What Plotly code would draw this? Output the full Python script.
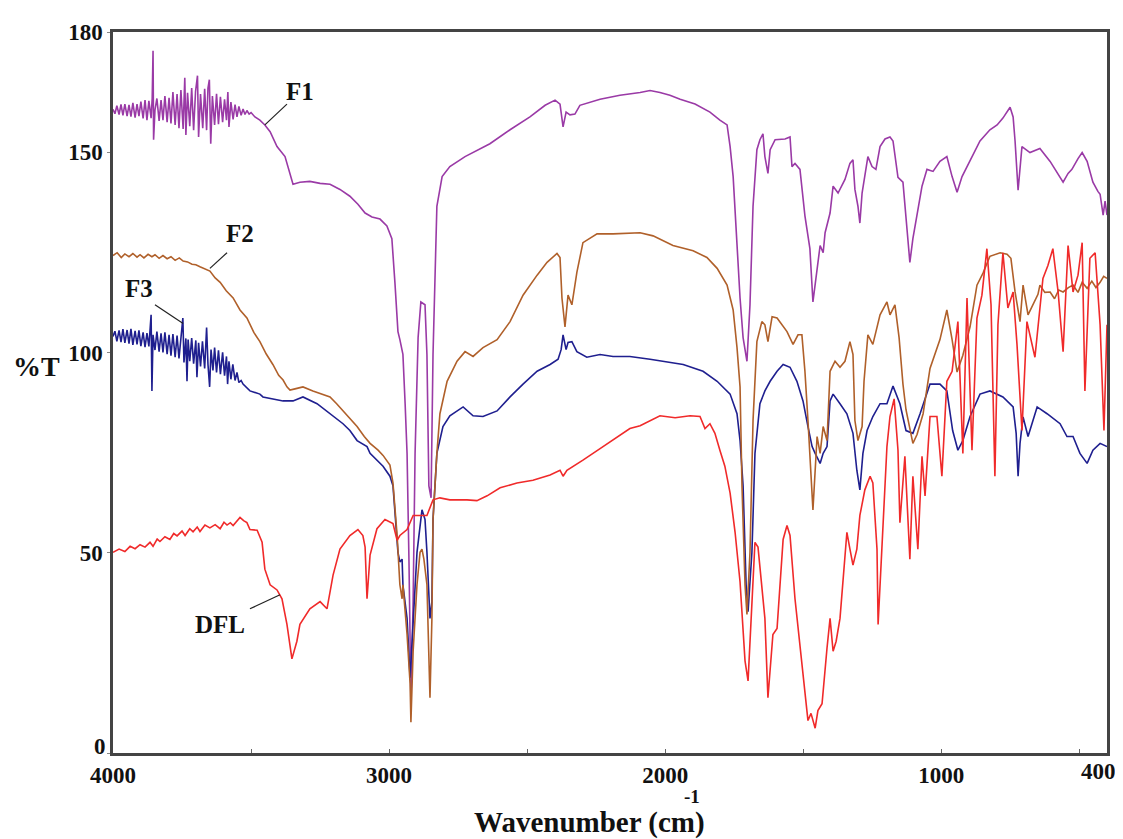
import plotly.graph_objects as go

# ---- data: (wavenumber cm-1, %T) ----
F1_points = [
    (4000,160.7),(3993,159.6),(3986,161.6),(3978,159.4),(3971,161.9),(3964,159.2),(3957,162.0),(3949,159.0),
    (3942,161.8),(3935,158.9),(3928,162.3),(3920,158.6),(3913,162.0),(3906,159.0),(3899,162.6),(3891,158.4),
    (3884,163.0),(3877,158.0),(3870,162.8),(3862,158.5),(3858,163.5),(3855,175.3),(3853,153.1),(3848,160.5),
    (3841,163.4),(3833,157.8),(3826,163.0),(3819,158.0),(3812,164.0),(3804,157.5),(3797,163.6),(3790,157.2),
    (3783,165.0),(3775,156.8),(3768,164.5),(3761,156.0),(3754,165.5),(3746,155.8),(3740,168.6),(3736,154.3),
    (3730,164.8),(3722,156.5),(3715,166.0),(3708,155.5),(3701,165.2),(3694,169.1),(3690,153.8),(3683,164.5),
    (3675,156.0),(3668,165.8),(3661,155.5),(3656,166.0),(3651,168.1),(3646,152.1),(3640,164.0),(3632,156.8),
    (3625,164.6),(3618,157.0),(3611,163.8),(3603,157.5),(3596,163.2),(3589,158.0),(3584,165.0),(3580,156.3),
    (3573,162.5),(3565,158.2),(3558,161.9),(3551,158.8),(3544,161.4),(3536,159.2),(3529,160.8),(3522,159.4),
    (3515,160.4),(3507,159.5),(3500,159.9),(3486,158.8),(3468,158.0),
    (3450,156.8),(3431,155.1),(3406,151.4),(3377,148.9),(3359,144.4),(3348,142.0),(3323,142.5),(3287,142.7),
    (3250,142.2),(3214,142.0),(3178,140.7),(3142,139.0),(3113,137.0),(3087,134.8),(3062,133.8),(3033,133.3),
    (3008,131.6),(2990,128.4),(2979,117.5),(2968,105.2),(2961,103.2),(2953,100.2),(2950,99.5),(2942,87.2),
    (2935,74.8),(2928,47.7),(2921,13.1),(2913,37.8),(2906,74.8),(2895,103.7),(2885,112.6),(2870,111.9),
    (2863,99.5),(2856,66.7),(2848,63.7),(2841,99.5),(2834,121.7),(2827,136.5),(2808,143.9),(2780,146.4),
    (2725,148.9),(2689,150.1),(2635,152.1),(2562,155.6),(2490,158.8),(2435,161.7),(2399,163.0),(2381,162.0),
    (2370,156.3),(2359,160.0),(2345,159.3),(2327,159.5),(2309,161.7),(2236,163.2),(2164,164.2),(2091,164.9),
    (2055,165.4),(2019,164.9),(1983,164.2),(1946,163.2),(1892,162.0),(1838,160.0),(1802,158.0),(1776,156.8),
    (1765,151.4),(1754,143.9),(1743,129.1),(1729,113.6),(1718,103.7),(1704,97.8),(1693,111.9),(1682,136.5),
    (1668,150.6),(1657,153.1),(1646,154.6),(1639,148.9),(1628,144.7),(1620,150.6),(1602,153.1),(1566,153.3),
    (1548,153.8),(1541,146.4),(1530,147.2),(1512,145.7),(1494,134.1),(1476,125.9),(1465,112.6),(1450,120.0),
    (1439,126.7),(1428,124.9),(1421,129.9),(1403,134.8),(1392,141.5),(1374,139.8),(1360,141.5),(1349,143.2),
    (1331,147.2),(1320,148.1),(1313,140.7),(1302,136.5),(1295,132.3),(1287,139.8),(1266,148.9),(1251,146.4),
    (1237,145.7),(1222,151.4),(1204,153.3),(1186,153.8),(1175,152.8),(1157,143.7),(1139,142.5),(1128,134.1),
    (1114,122.5),(1103,128.4),(1088,134.3),(1070,141.5),(1052,145.7),(1030,145.2),(1005,147.7),(980,148.9),
    (961,143.9),(943,140.0),(925,143.9),(896,147.7),(860,152.8),(824,155.6),(798,156.8),(777,158.5),
    (759,160.2),(751,161.2),(740,158.8),(733,152.8),(722,140.5),(708,151.4),(679,149.9),(643,150.9),
    (606,147.7),(577,144.4),(559,142.5),(541,144.7),(527,145.7),(505,148.4),(490,149.9),(472,147.7),
    (451,142.5),(433,140.2),(425,139.5),(414,134.3),(407,137.8),(400,134.3),
]

F2_points = [
    (4000,124.2),(3985,124.9),(3970,123.7),(3957,124.6),(3942,123.9),(3928,124.7),(3913,123.8),(3902,124.4),
    (3888,123.6),(3873,124.5),(3859,123.9),(3848,124.4),(3833,123.5),(3819,124.2),(3804,123.4),(3790,123.9),
    (3775,123.0),(3760,123.6),(3746,122.8),(3730,122.6),(3714,122.0),(3700,121.9),(3685,121.4),(3667,120.8),
    (3649,120.3),(3630,118.6),(3612,117.5),(3590,115.4),(3565,113.6),(3540,110.6),(3515,108.6),(3490,105.0),
    (3468,102.7),(3445,99.6),(3421,97.0),(3400,94.3),(3384,93.1),(3370,91.4),(3359,90.6),(3341,90.9),
    (3312,91.4),(3276,90.4),(3245,89.6),(3214,88.9),(3190,87.2),(3167,85.4),(3140,83.2),(3116,81.5),
    (3090,79.0),(3069,77.3),(3040,75.6),(3022,74.3),(2997,71.9),(2986,67.4),(2971,54.3),(2961,42.0),
    (2953,38.5),(2950,42.0),(2935,29.6),(2924,17.3),(2921,7.7),(2913,25.4),(2899,42.0),(2888,50.1),
    (2881,50.9),(2874,48.4),(2863,42.0),(2856,25.4),(2852,13.8),(2845,33.6),(2841,58.3),(2827,74.8),
    (2816,84.7),(2790,92.8),(2754,97.8),(2725,100.2),(2696,99.0),(2660,101.2),(2609,103.2),(2562,107.7),
    (2515,114.3),(2464,119.3),(2428,122.5),(2392,124.7),(2381,123.7),(2374,113.6),(2363,106.4),(2352,114.3),
    (2338,111.9),(2320,120.0),(2298,127.4),(2247,129.6),(2189,129.6),(2091,129.9),(2044,129.1),(1972,126.7),
    (1899,125.4),(1849,123.7),(1812,121.0),(1776,116.8),(1754,110.6),(1740,101.2),(1729,91.4),(1722,66.7),
    (1711,42.0),(1704,34.6),(1693,50.1),(1682,83.0),(1668,102.7),(1650,107.7),(1639,106.9),(1628,102.7),
    (1613,108.9),(1595,108.6),(1559,105.2),(1537,102.0),(1519,104.4),(1505,104.4),(1494,95.3),(1483,83.0),
    (1468,66.7),(1465,60.7),(1450,79.0),(1439,74.8),(1428,81.5),(1414,78.0),(1403,95.3),(1385,97.8),
    (1367,96.3),(1349,97.8),(1331,102.7),(1320,99.5),(1313,83.0),(1302,78.0),(1287,81.5),(1280,92.8),
    (1266,104.4),(1248,102.0),(1222,109.4),(1197,112.6),(1186,109.4),(1168,111.9),(1153,103.7),(1139,92.1),
    (1128,85.7),(1114,80.5),(1103,77.3),(1088,79.5),(1066,84.7),(1041,96.0),(1005,103.2),(980,110.6),
    (961,103.2),(943,95.1),(922,99.3),(896,106.4),(871,116.8),(849,119.8),(824,124.0),(787,124.9),
    (762,124.5),(748,123.5),(733,115.1),(715,107.7),(704,116.8),(686,109.4),(668,111.9),(650,114.5),
    (643,116.8),(625,115.0),(606,115.1),(590,113.4),(575,115.6),(559,115.1),(540,116.2),(523,116.8),
    (505,115.0),(490,117.5),(472,116.0),(455,117.8),(440,116.2),(425,117.5),(412,119.0),(400,118.5),
]

F3_points = [
    (4000,104.0),(3993,105.3),(3986,102.8),(3978,105.5),(3971,102.6),(3964,105.8),(3957,102.4),(3949,105.6),
    (3942,102.2),(3935,105.9),(3928,101.9),(3920,105.4),(3913,102.0),(3906,105.5),(3899,101.6),(3891,105.0),
    (3884,101.3),(3877,104.8),(3870,101.5),(3864,106.0),(3862,109.4),(3859,90.4),(3855,104.4),(3848,100.6),
    (3841,105.2),(3833,100.2),(3826,104.8),(3819,100.0),(3812,105.0),(3804,99.6),(3797,104.4),(3790,99.2),
    (3783,104.6),(3775,98.8),(3768,104.2),(3761,98.5),(3754,103.8),(3747,108.6),(3743,97.5),(3736,103.5),
    (3732,92.8),(3728,103.2),(3722,97.8),(3715,103.6),(3708,97.2),(3700,103.0),(3696,93.8),(3690,102.4),
    (3683,96.5),(3676,102.8),(3668,96.0),(3661,106.2),(3656,97.0),(3650,91.4),(3645,100.7),(3638,95.5),
    (3632,101.2),(3625,95.0),(3618,100.5),(3611,94.6),(3603,100.0),(3596,94.2),(3589,99.0),(3585,92.1),
    (3580,97.8),(3573,93.3),(3566,97.0),(3558,93.0),(3551,95.0),(3544,92.5),(3536,93.0),(3529,92.1),
    (3504,90.4),(3468,89.6),(3457,88.9),(3421,88.4),(3384,87.9),(3348,87.9),(3312,88.9),
    (3261,87.2),(3214,84.7),(3167,82.2),(3142,80.5),(3116,78.0),(3080,76.5),(3069,74.8),(3022,71.6),
    (2997,69.1),(2986,66.7),(2968,50.1),(2961,47.7),(2953,48.4),(2950,42.0),(2935,33.6),(2924,18.8),
    (2913,33.6),(2899,50.1),(2881,60.7),(2870,58.3),(2863,50.1),(2852,33.6),(2845,37.8),(2841,58.3),
    (2827,74.8),(2805,81.5),(2780,84.2),(2754,85.4),(2732,86.4),(2696,84.2),(2660,84.0),(2609,85.4),
    (2562,88.9),(2515,92.1),(2464,95.3),(2417,97.0),(2388,98.3),(2377,100.7),(2370,104.4),(2359,100.7),
    (2352,102.5),(2338,102.7),(2320,100.2),(2284,98.8),(2236,99.5),(2189,99.0),(2128,99.0),(2055,98.3),
    (1935,97.0),(1863,95.3),(1812,92.8),(1765,89.6),(1740,84.7),(1729,78.0),(1718,66.7),(1707,42.0),
    (1700,35.3),(1686,50.1),(1675,74.8),(1657,87.2),(1639,90.4),(1620,92.8),(1595,95.3),(1573,97.0),
    (1548,96.3),(1523,92.8),(1501,87.9),(1483,81.5),(1468,76.5),(1457,74.8),(1439,72.3),(1428,74.8),
    (1414,76.5),(1403,87.9),(1392,89.6),(1367,87.2),(1342,84.7),(1320,79.8),(1306,70.6),(1295,65.7),
    (1284,74.8),(1269,80.5),(1248,84.0),(1222,87.2),(1197,87.2),(1175,91.6),(1150,87.2),(1128,80.5),
    (1103,79.8),(1077,84.7),(1041,92.1),(1005,92.1),(980,90.4),(959,80.5),(940,75.6),(922,78.0),
    (896,84.0),(860,89.6),(824,90.4),(777,88.9),(740,86.4),(729,79.8),(722,69.1),(715,77.3),
    (704,83.9),(686,79.0),(653,86.4),(617,84.7),(570,82.2),(545,79.0),(523,79.0),(498,74.8),
    (472,72.3),(451,75.6),(425,77.3),(400,76.5),
]

DFL_points = [
    (4000,50.1),(3978,50.9),(3957,50.3),(3938,51.6),(3920,51.0),(3902,52.0),(3884,51.4),(3866,52.6),
    (3855,51.6),(3840,53.4),(3830,52.8),(3812,54.0),(3794,53.3),(3780,54.8),(3768,54.2),(3750,55.4),
    (3739,54.3),(3722,56.0),(3710,55.2),(3695,56.4),(3685,55.3),(3667,56.9),(3649,56.2),(3630,57.0),
    (3612,56.0),(3598,57.6),(3587,56.9),(3575,57.5),(3565,56.8),(3552,58.0),(3540,58.8),(3527,58.0),
    (3515,57.5),(3504,55.8),(3478,55.6),(3460,52.6),(3450,45.9),(3431,42.0),(3406,40.7),
    (3388,38.5),(3370,32.1),(3352,23.5),(3334,27.9),(3323,32.1),(3287,36.0),(3250,37.8),(3225,36.0),
    (3203,44.4),(3178,50.9),(3142,54.3),(3113,55.8),(3095,54.3),(3087,51.4),(3080,38.5),(3069,49.4),
    (3044,56.0),(3015,58.3),(2986,57.3),(2971,53.1),(2961,54.3),(2935,55.8),(2913,59.3),(2888,59.3),
    (2863,59.3),(2841,63.2),(2816,63.7),(2780,63.2),(2718,63.2),(2682,63.0),(2645,64.2),(2598,66.2),
    (2537,67.4),(2479,68.1),(2417,69.4),(2381,70.6),(2370,69.1),(2356,70.6),(2298,73.1),(2236,76.0),
    (2164,79.3),(2128,81.0),(2091,81.7),(2019,84.2),(1964,83.7),(1910,84.2),(1874,84.0),(1856,81.0),
    (1838,82.2),(1820,79.8),(1802,75.6),(1784,71.6),(1765,64.9),(1747,55.1),(1729,42.7),(1711,23.0),
    (1700,18.0),(1693,27.9),(1686,37.8),(1675,52.6),(1664,51.4),(1650,42.0),(1639,33.6),(1628,13.8),
    (1610,29.6),(1595,31.1),(1584,42.7),(1573,53.3),(1559,56.8),(1548,54.3),(1530,38.5),(1512,26.2),
    (1494,13.8),(1483,8.1),(1472,9.9),(1457,6.2),(1447,10.6),(1432,12.3),(1414,26.2),(1403,33.6),
    (1392,25.4),(1381,27.9),(1367,33.6),(1349,47.7),(1342,55.1),(1331,50.9),(1320,46.9),(1306,50.9),
    (1295,59.3),(1277,65.7),(1258,69.1),(1248,67.4),(1233,50.9),(1229,32.1),(1215,50.1),(1197,76.5),
    (1186,84.0),(1171,88.4),(1157,75.6),(1150,57.5),(1132,74.1),(1114,48.4),(1103,69.1),(1085,50.9),
    (1070,74.1),(1059,64.2),(1041,84.0),(1016,84.0),(998,69.1),(980,92.8),(961,95.3),(940,107.7),
    (922,74.8),(907,113.6),(889,75.6),(871,108.6),(853,114.3),(835,125.9),(820,111.9),(806,69.1),
    (795,106.9),(777,124.9),(759,111.1),(740,115.1),(726,102.0),(708,80.5),(690,107.7),(661,98.8),
    (632,118.5),(614,121.7),(596,125.9),(577,115.1),(559,100.2),(541,126.7),(523,115.1),(505,119.3),
    (490,127.4),(480,90.4),(462,123.5),(443,124.9),(425,106.9),(411,80.5),(400,106.9),
]

SERIES = [
    ("F1", F1_points, "#9a3aa6"),
    ("F3", F3_points, "#1f1f8f"),
    ("F2", F2_points, "#b0602a"),
    ("DFL", DFL_points, "#f02a2a"),
]

# label text positions and leader lines (wavenumber, %T)
LABELS = [
    ("F1", (3323, 165.2), (3450, 156.8), (3370, 162.0)),
    ("F2", (3540, 129.6), (3587, 124.9), (3649, 121.0)),
    ("F3", (3906, 116.0), (3848, 111.9), (3746, 107.2)),
    ("DFL", (3612, 32.1), (3504, 36.0), (3395, 39.5)),
]

X_TICKS = [4000, 3000, 2000, 1000, 400]
Y_TICKS = [0, 50, 100, 150, 180]

FONT = "Liberation Serif"
TICK_FONT = dict(family=FONT, size=23, color="#111", weight="bold")

fig = go.Figure()
for name, pts, col in SERIES:
    fig.add_trace(go.Scatter(
        x=[p[0] for p in pts], y=[p[1] for p in pts], mode="lines", name=name,
        line=dict(color=col, width=1.6), showlegend=False,
    ))

for text, (tx, ty), (x0, y0), (x1, y1) in LABELS:
    fig.add_annotation(x=tx, y=ty, text=text, showarrow=False, xanchor="center", yanchor="middle",
                       font=dict(family=FONT, size=25, color="#111", weight="bold"))
    fig.add_shape(type="line", x0=x0, y0=y0, x1=x1, y1=y1, xref="x", yref="y",
                  line=dict(color="#222", width=1.2))

# tick labels at the edges, nudged inside the page as in the reference
x_text = [str(v) for v in X_TICKS]
x_text[-1] = ""
y_text = [str(v) for v in Y_TICKS]
y_text[0] = ""
fig.add_annotation(x=X_TICKS[-1], xref="x", yref="paper", y=-0.026, text=str(X_TICKS[-1]),
                   xanchor="right", yanchor="middle", xshift=11, showarrow=False, font=TICK_FONT)
fig.add_annotation(xref="paper", y=Y_TICKS[0], yref="y", x=-0.005, text=str(Y_TICKS[0]),
                   xanchor="right", yanchor="middle", yshift=7, showarrow=False, font=TICK_FONT)

fig.add_annotation(xref="paper", yref="paper", x=0.479, y=-0.097, text="Wavenumber (cm)",
                   xanchor="center", yanchor="middle", showarrow=False,
                   font=dict(family=FONT, size=29, color="#111", weight="bold"))
fig.add_annotation(xref="paper", yref="paper", x=0.582, y=-0.061, text="-1",
                   xanchor="center", yanchor="middle", showarrow=False,
                   font=dict(family=FONT, size=19, color="#111", weight="bold"))
fig.add_annotation(xref="paper", yref="paper", x=-0.0765, y=0.536, text="%T",
                   xanchor="center", yanchor="middle", showarrow=False,
                   font=dict(family=FONT, size=28, color="#111", weight="bold"))

axis_common = dict(showgrid=False, zeroline=False, showline=True, mirror=True,
                   linecolor="#444", linewidth=2.5, tickfont=TICK_FONT)

fig.update_xaxes(range=[4000, 400], tickmode="array", tickvals=X_TICKS,
                 ticktext=x_text, ticks="inside", ticklen=4,
                 tickcolor="#666", minor=dict(tickvals=[3500, 2500, 1500, 500], ticks="inside",
                                              ticklen=4, tickcolor="#666"),
                 **axis_common)
fig.update_yaxes(range=[0, 180], tickmode="array", tickvals=Y_TICKS,
                 ticktext=y_text, ticks="outside", ticklen=3,
                 tickcolor="#888", **axis_common)

fig.update_layout(
    width=1123, height=839,
    margin=dict(l=105, r=24, t=16, b=94),
    paper_bgcolor="white", plot_bgcolor="white",
)

fig.write_html("out.html")
